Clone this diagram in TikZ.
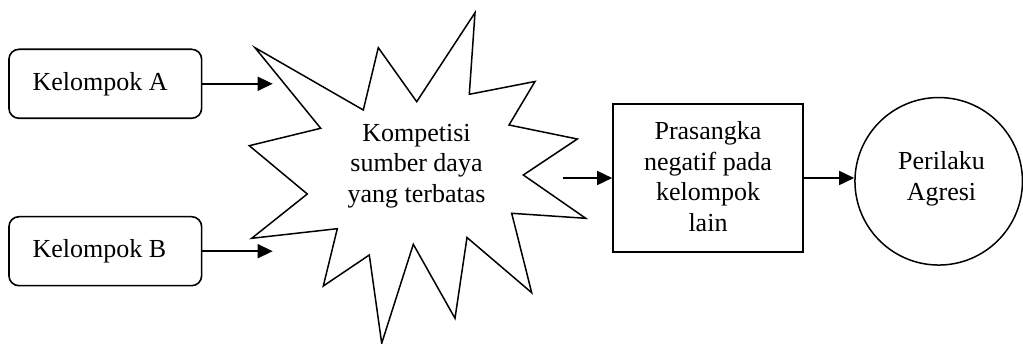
\documentclass[tikz,border=0pt]{standalone}
\usepackage{fontspec}
\setmainfont{Liberation Serif}
\usetikzlibrary{arrows.meta}
\newcommand{\leftlabel}[1]{\makebox[145.3pt][l]{#1}}
\begin{document}
\begin{tikzpicture}[x=1pt,y=-1pt,
  every node/.style={font=\fontsize{26}{30.7}\selectfont, align=center, inner sep=0pt},
  group/.style={draw, line width=1.6pt, rounded corners=10pt, minimum width=192.7pt,
    minimum height=69pt},
  prejudice/.style={draw, line width=1.6pt, minimum width=190pt, minimum height=148pt},
  outcome/.style={draw, circle, line width=1.5pt, minimum size=167.5pt},
  flow/.style={line width=1.6pt, -{Triangle[length=15pt,width=14pt]}},
  burst/.style={draw, line width=1.5pt, line join=miter}]
  \useasboundingbox (0,0) rectangle (1023,344);

  % two groups on the left
  \node[group] (ka) at (105.3,83.8) {\leftlabel{Kelompok A}};
  \node[group] (kb) at (105.3,251.2) {\leftlabel{Kelompok B}};

  % explosion-shaped outline for the competition
  \draw[burst] (475,12.7) -- (469.3,94.3) -- (535,81.5) -- (509,125)
    -- (577.3,139) -- (523.3,175) -- (585.7,218.3) -- (511.7,213.3)
    -- (531.7,292.7) -- (467,237.5) -- (455,318.3) -- (413.3,244.3)
    -- (381.7,343.3) -- (369.3,255) -- (323.3,286) -- (337.3,228.7)
    -- (251.7,238.3) -- (307.3,194) -- (249.3,145.7) -- (320.7,128.3)
    -- (255,47.7) -- (363.3,110) -- (378.3,47.7) -- (416.7,101.7) -- cycle;
  \node (komp) at (416.5,166) {Kompetisi\\sumber daya\\yang terbatas};
  \coordinate (inA) at (272.7,83.8);
  \coordinate (inB) at (272.7,251.2);
  \coordinate (out) at (562.7,178);

  % prejudice box and aggression circle
  \node[prejudice] (pras) at (708,178) {};
  \node (prasText) at (708,176.5) {Prasangka\\negatif pada\\kelompok\\lain};
  \node[outcome] (agresi) at (938.7,181.3) {};
  \node (agresiText) at (941.5,179) {Perilaku\\Agresi};

  % connectors
  \draw[flow] (ka.east) -- (inA);
  \draw[flow] (kb.east) -- (inB);
  \draw[flow] (out) -- (pras.west);
  \draw[flow] (pras.east) -- (pras.east -| agresi.west);
\end{tikzpicture}
\end{document}
